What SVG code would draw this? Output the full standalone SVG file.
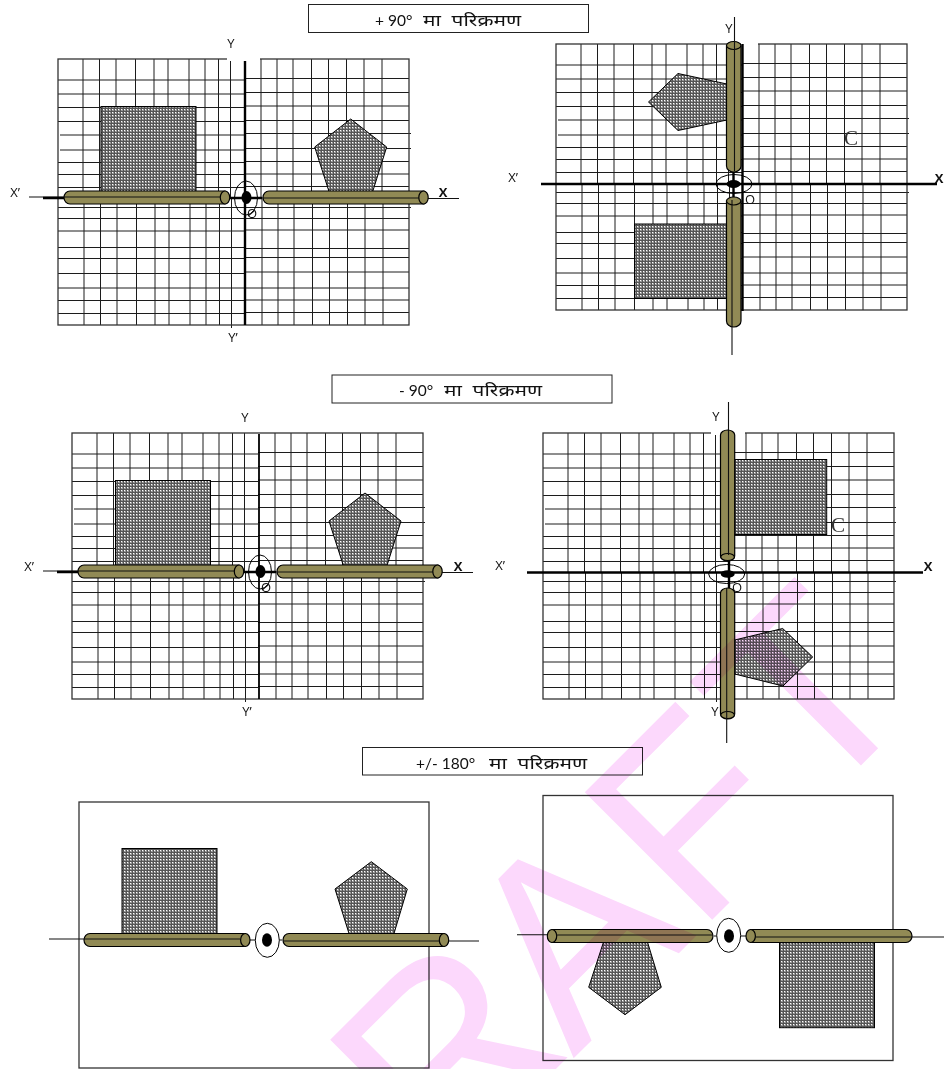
<svg xmlns="http://www.w3.org/2000/svg" width="944" height="1069" viewBox="0 0 944 1069">
<style>
text{font-family:"Open Sans","Liberation Sans","Noto Sans",sans-serif;fill:#111}
.lab{font-size:13px;text-anchor:middle}
.ttl{font-family:Lato,"Noto Sans",sans-serif;font-size:15.500px;white-space:pre}
.box{fill:#fff;stroke:#222;stroke-width:1}
.c{font-family:"Liberation Serif",serif;font-size:21px;fill:#333;text-anchor:middle}
.thin{stroke:#111;stroke-width:1.100;fill:none}
.thick{stroke:#000;stroke-width:2.400;fill:none}
.bar{fill:#918a55;stroke:#000;stroke-width:1.200}
.shape{fill:url(#dots);stroke:#000;stroke-width:1}
.ring{fill:none;stroke:#000;stroke-width:1}
.grid{fill:none;stroke:#1c1c1c;stroke-width:1}
.frame{fill:none;stroke:#333;stroke-width:1.300}
.wm{font-family:"Liberation Sans",sans-serif;font-size:262px;fill:#fcd8fc;mix-blend-mode:multiply;font-kerning:none}
</style>
<defs>
<pattern id="dots" width="3" height="3" patternUnits="userSpaceOnUse"><rect width="3" height="3" fill="#999"/><path d="M0 0H3V1H1V3H0Z" fill="#555"/><rect x="1" y="1" width="1" height="1" fill="#fff"/></pattern>
<g id="grid" class="grid">
<path d="M25 0V139.500M41.500 0V139.500M58 0V139.500M77.500 0V139.500M96 0V139.500M110 0V139.500M131 0V139.500M147 0V139.500M160.500 0V139.500M172.500 0V139.500M203 0V139.500M219 0V139.500M235 0V139.500M253.500 0V139.500M270.500 0V139.500M288.500 0V139.500M306 0V139.500M324 0V139.500"/>
<path d="M26 139.500V266M42.500 139.500V266M59 139.500V266M78.500 139.500V266M97 139.500V266M111 139.500V266M132 139.500V266M148 139.500V266M161.500 139.500V266M173.500 139.500V269M204 139.500V266M220 139.500V266M236 139.500V266M254.500 139.500V266M271.500 139.500V266M289.500 139.500V266M307 139.500V266M325 139.500V266"/>
<path d="M0 21H186M0 35H186M0 48.500H186M0 62.500H186M2 76H186M2 91H186M0 103.500H186M0 115.500H186M0 128.500H186M0 148.500H186M0 159.500H186M0 172H186M0 188.500H186M0 199.500H186M0 214.500H186M0 229H186M0 241.500H186M0 254.500H186"/>
<path d="M186 19.500H351M186 33.500H351M186 47H351M186 61.500H351M186 74.500H353M186 89.500H353M186 102.500H351M186 115H351M186 127.500H351M186 148.500H353M186 159.500H351M186 171H351M186 189.500H351M186 198.500H351M186 213H351M186 229H351M186 241H351M186 253.500H351"/>
<rect x="0" y="0" width="351" height="266" class="frame"/>
</g>
</defs>

<g id="title-1"><rect class="box" x="308.500" y="4.500" width="280" height="28"/><text class="ttl" y="25.500"><tspan x="375">+ 90°</tspan><tspan x="423" textLength="98" lengthAdjust="spacingAndGlyphs">मा  परिक्रमण</tspan></text></g>
<g id="title-2"><rect class="box" x="332" y="375" width="280" height="28"/><text class="ttl" y="396"><tspan x="399">- 90°</tspan><tspan x="444" textLength="98" lengthAdjust="spacingAndGlyphs">मा  परिक्रमण</tspan></text></g>
<g id="title-3"><rect class="box" x="362.500" y="747.500" width="280" height="27.500"/><text class="ttl" y="768.500"><tspan x="416">+/- 180°</tspan><tspan x="489" textLength="98" lengthAdjust="spacingAndGlyphs">मा  परिक्रमण</tspan></text></g>

<g id="panel-1">
<use href="#grid" x="58" y="59"/>
<rect x="227" y="56" width="33" height="5" fill="#fff"/>
<rect class="shape" x="101" y="106.500" width="95" height="85"/>
<polygon class="shape" points="350.700,119 386.700,147 372.700,191.500 329,191.500 314.700,147"/>
<path class="thin" d="M29 197H64M420 198.500H459"/>
<path class="thick" d="M43 198H64M230 198H262M245 61V325"/>
<g class="bar"><path d="M70 191H225V204H70A6 6.500 0 0 1 70 191Z"/><ellipse cx="225" cy="197.500" rx="4.700" ry="6.500"/><path d="M269 191H424V204H269A6 6.500 0 0 1 269 191Z"/><ellipse cx="423.500" cy="197.500" rx="4.700" ry="6.500"/></g>
<path class="thin" d="M64 197H220M262 198H419"/>
<ellipse class="ring" cx="246" cy="198" rx="11.500" ry="17"/>
<ellipse cx="246.500" cy="197.500" rx="5" ry="6.500"/>
<text class="lab" x="252" y="218">O</text>
<path class="thin" d="M248 216L254 211"/>
<text class="lab" x="231" y="48">Y</text><text class="lab" x="233" y="342">Y’</text><text class="lab" x="15" y="197">X’</text><text class="lab" x="443" y="197" font-weight="bold">X</text>
</g>

<g id="panel-2">
<use href="#grid" x="556" y="44"/>
<rect x="741" y="41" width="17" height="5" fill="#fff"/>
<rect class="shape" x="634.500" y="224" width="93" height="74.500"/>
<polygon class="shape" points="678,73.500 727,84 727,120 678,130.500 648.500,102"/>
<path class="thick" d="M541 184H937M742.500 44V311M733.500 172V197"/>
<g class="bar"><path d="M726.500 46V166A7.250 6 0 0 0 741 166V46Z"/><ellipse cx="733.700" cy="45.500" rx="7.200" ry="4"/><path d="M726.500 201V321A7.250 6 0 0 0 741 321V201Z"/><ellipse cx="733.700" cy="201" rx="7.200" ry="4"/></g>
<path class="thin" d="M734.500 17V171M732 200V355"/>
<ellipse class="ring" cx="734" cy="184" rx="18" ry="9.500"/>
<ellipse cx="733.500" cy="184" rx="7" ry="4"/>
<text class="lab" x="729" y="33">Y</text><text class="lab" x="513" y="182">X’</text><text class="lab" x="939" y="183" font-weight="bold">X</text><text class="lab" x="750" y="204">O</text><text class="c" x="851" y="145">C</text>
</g>

<g id="panel-3">
<use href="#grid" x="72" y="433"/>
<rect class="shape" x="115.500" y="480.500" width="95" height="85"/>
<polygon class="shape" points="365,493 401,521 387,565.500 343.300,565.500 329,521"/>
<path class="thin" d="M43 571H78M434 572.500H473"/>
<path class="thick" d="M57 572H78M244 572H276"/>
<path d="M259 434V699" fill="none" stroke="#000" stroke-width="1.800"/>
<g class="bar"><path d="M84 565H239V578H84A6 6.500 0 0 1 84 565Z"/><ellipse cx="239" cy="571.500" rx="4.700" ry="6.500"/><path d="M283 565H438V578H283A6 6.500 0 0 1 283 565Z"/><ellipse cx="437.500" cy="571.500" rx="4.700" ry="6.500"/></g>
<path class="thin" d="M78 571H234M276 572H433"/>
<ellipse class="ring" cx="260" cy="572" rx="11.500" ry="17"/>
<ellipse cx="260.500" cy="571.500" rx="5" ry="6.500"/>
<text class="lab" x="266" y="592">O</text>
<path class="thin" d="M262 590L268 585"/>
<text class="lab" x="245" y="422">Y</text><text class="lab" x="247" y="716">Y’</text><text class="lab" x="29" y="571">X’</text><text class="lab" x="458" y="571" font-weight="bold">X</text>
</g>

<g id="panel-4">
<use href="#grid" x="543" y="433"/>
<rect x="711" y="431" width="34" height="4" fill="#fff"/>
<rect class="shape" x="734.700" y="459.500" width="92" height="75"/>
<polygon class="shape" points="734.700,640 782.700,628.500 812.700,657 783,686 734.700,674"/>
<path class="thick" d="M527 572.500H923M729 557V590"/>
<text class="lab" x="737" y="592">O</text>
<g class="bar"><path d="M720.500 435V556A7.100 5 0 0 0 734.700 556V435A7.100 5 0 0 0 720.500 435Z"/><ellipse cx="727.600" cy="557" rx="6.800" ry="3.500"/><path d="M720.500 593V714A7.100 5 0 0 0 734.700 714V593A7.100 5 0 0 0 720.500 593Z"/><ellipse cx="727.600" cy="715" rx="6.800" ry="3.500"/></g>
<path class="thin" d="M728.500 402V555M726.700 588V743"/>
<ellipse class="ring" cx="726.700" cy="574" rx="18" ry="9.500"/>
<ellipse cx="727.700" cy="574" rx="7" ry="3.800"/>
<text class="lab" x="716" y="421">Y</text><text class="lab" x="715" y="716">Y</text><text class="lab" x="500" y="570">X’</text><text class="lab" x="928" y="571" font-weight="bold">X</text><text class="c" x="838" y="532">C</text>
</g>

<g id="panel-5">
<rect class="frame" x="79" y="802" width="350" height="266"/>
<rect class="shape" x="122" y="848.500" width="95" height="85"/>
<polygon class="shape" points="371.300,861.700 407.300,889 394,933.500 349,933.500 335,889"/>
<path class="thin" d="M49 939H84M448 941H479M250 940H282"/>
<g class="bar"><path d="M90 933.500H245V946.500H90A6 6.500 0 0 1 90 933.500Z"/><ellipse cx="245.300" cy="940" rx="4.700" ry="6.500"/><path d="M289 933.500H444V946.500H289A6 6.500 0 0 1 289 933.500Z"/><ellipse cx="444" cy="940" rx="4.700" ry="6.500"/></g>
<path class="thin" d="M84 939H240M283 941H439"/>
<ellipse cx="267.300" cy="940.300" rx="12" ry="17" fill="#fff" stroke="#000"/>
<ellipse cx="267" cy="940" rx="5" ry="6.700"/>
</g>

<g id="panel-6">
<rect class="frame" x="543" y="795.500" width="350" height="265"/>
<rect class="shape" x="779.500" y="942.700" width="95" height="85"/>
<polygon class="shape" points="625,1014.700 661.300,987.300 647.700,942.700 603.300,942.700 588.700,987.300"/>
<path class="thin" d="M517 934.700H548M912 937H944M714 936H746"/>
<g class="bar"><path d="M552 929.500H707A6 6.500 0 0 1 707 942.500H552Z"/><ellipse cx="552" cy="936" rx="4.700" ry="6.500"/><path d="M751 929.500H906A6 6.500 0 0 1 906 942.500H751Z"/><ellipse cx="750.700" cy="936" rx="4.700" ry="6.500"/></g>
<path class="thin" d="M556 935H713M755 937H912"/>
<ellipse cx="728.700" cy="935.300" rx="12" ry="17" fill="#fff" stroke="#000"/>
<ellipse cx="729" cy="936" rx="5" ry="6.700"/>
</g>

<text id="watermark" class="wm" transform="translate(306 1326) rotate(-45)" x="0 198 378 553 721" y="0 -5 0 0 -4">DRAFT</text>
</svg>
